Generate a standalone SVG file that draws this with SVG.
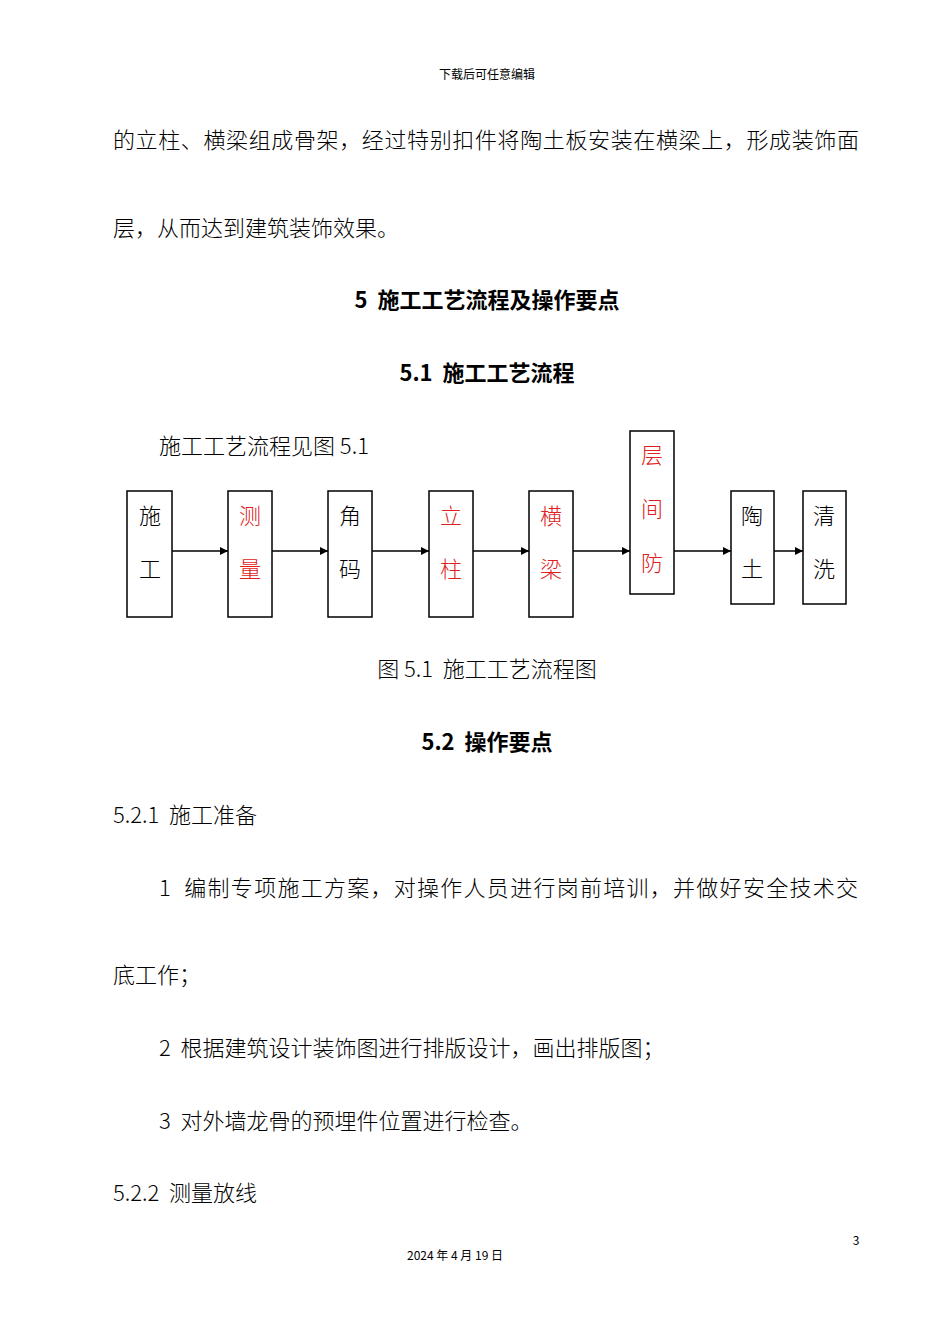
<svg xmlns="http://www.w3.org/2000/svg" width="950" height="1344" viewBox="0 0 950 1344">
<style>
text{font-family:"Noto Sans CJK SC","Noto Sans",sans-serif;fill:#000;white-space:pre}
.b{font-size:22px;font-weight:300}
.h{font-size:22px;font-weight:bold}
.n{font-size:22px;font-weight:300}
.r{fill:#e02020}
.box{fill:#fff;stroke:#000;stroke-width:1.5}
.ln{stroke:#000;stroke-width:1.5;marker-end:url(#a)}
</style>
<defs><marker id="a" viewBox="0 0 10 10" refX="10" refY="5" markerWidth="8" markerHeight="8" markerUnits="userSpaceOnUse" orient="auto"><path d="M0,0L10,5L0,10z" fill="#000"/></marker></defs>
<rect width="950" height="1344" fill="#fff"/>
<text x="487" y="79" font-size="12" text-anchor="middle">下载后可任意编辑</text>
<text x="113" y="148" class="b" textLength="746" lengthAdjust="spacing">的立柱、横梁组成骨架，经过特别扣件将陶土板安装在横梁上，形成装饰面</text>
<text x="113" y="236" class="b">层，从而达到建筑装饰效果。</text>
<text x="487" y="308" class="h" text-anchor="middle">5  施工工艺流程及操作要点</text>
<text x="487" y="381" class="h" text-anchor="middle">5.1  施工工艺流程</text>
<text x="159" y="454" class="b">施工工艺流程见图 5.1</text>
<g id="connectors">
<line x1="172" y1="551" x2="228" y2="551" class="ln"/>
<line x1="272" y1="551" x2="328" y2="551" class="ln"/>
<line x1="372" y1="551" x2="429" y2="551" class="ln"/>
<line x1="473" y1="551" x2="529" y2="551" class="ln"/>
<line x1="573" y1="551" x2="630" y2="551" class="ln"/>
<line x1="674" y1="551" x2="731" y2="551" class="ln"/>
<line x1="774" y1="551" x2="803" y2="551" class="ln"/>
</g>
<g id="n1"><rect x="127" y="491" width="45" height="126" class="box"/><text x="150" y="524" class="n" text-anchor="middle">施</text><text x="150" y="577" class="n" text-anchor="middle">工</text></g>
<g id="n2"><rect x="228" y="491" width="44" height="126" class="box"/><text x="250" y="524" class="n r" text-anchor="middle">测</text><text x="250" y="577" class="n r" text-anchor="middle">量</text></g>
<g id="n3"><rect x="328" y="491" width="44" height="126" class="box"/><text x="350" y="524" class="n" text-anchor="middle">角</text><text x="350" y="577" class="n" text-anchor="middle">码</text></g>
<g id="n4"><rect x="429" y="491" width="44" height="126" class="box"/><text x="451" y="524" class="n r" text-anchor="middle">立</text><text x="451" y="577" class="n r" text-anchor="middle">柱</text></g>
<g id="n5"><rect x="529" y="491" width="44" height="126" class="box"/><text x="551" y="524" class="n r" text-anchor="middle">横</text><text x="551" y="577" class="n r" text-anchor="middle">梁</text></g>
<g id="n6"><rect x="630" y="431" width="44" height="163" class="box"/><text x="652" y="463" class="n r" text-anchor="middle">层</text><text x="652" y="517" class="n r" text-anchor="middle">间</text><text x="652" y="571" class="n r" text-anchor="middle">防</text></g>
<g id="n7"><rect x="731" y="491" width="43" height="113" class="box"/><text x="752" y="524" class="n" text-anchor="middle">陶</text><text x="752" y="577" class="n" text-anchor="middle">土</text></g>
<g id="n8"><rect x="803" y="491" width="43" height="113" class="box"/><text x="824" y="524" class="n" text-anchor="middle">清</text><text x="824" y="577" class="n" text-anchor="middle">洗</text></g>
<text x="487" y="677" class="b" text-anchor="middle">图 5.1  施工工艺流程图</text>
<text x="487" y="750" class="h" text-anchor="middle">5.2  操作要点</text>
<text x="113" y="823" class="b">5.2.1  施工准备</text>
<text x="159" y="896" class="b" textLength="699" lengthAdjust="spacing">1  编制专项施工方案，对操作人员进行岗前培训，并做好安全技术交</text>
<text x="113" y="983" class="b">底工作；</text>
<text x="159" y="1056" class="b">2  根据建筑设计装饰图进行排版设计，画出排版图；</text>
<text x="159" y="1129" class="b">3  对外墙龙骨的预埋件位置进行检查。</text>
<text x="113" y="1201" class="b">5.2.2  测量放线</text>
<text x="856" y="1245" font-size="12" text-anchor="middle">3</text>
<text x="455" y="1260" font-size="12" text-anchor="middle">2024 年 4 月 19 日</text>
</svg>
